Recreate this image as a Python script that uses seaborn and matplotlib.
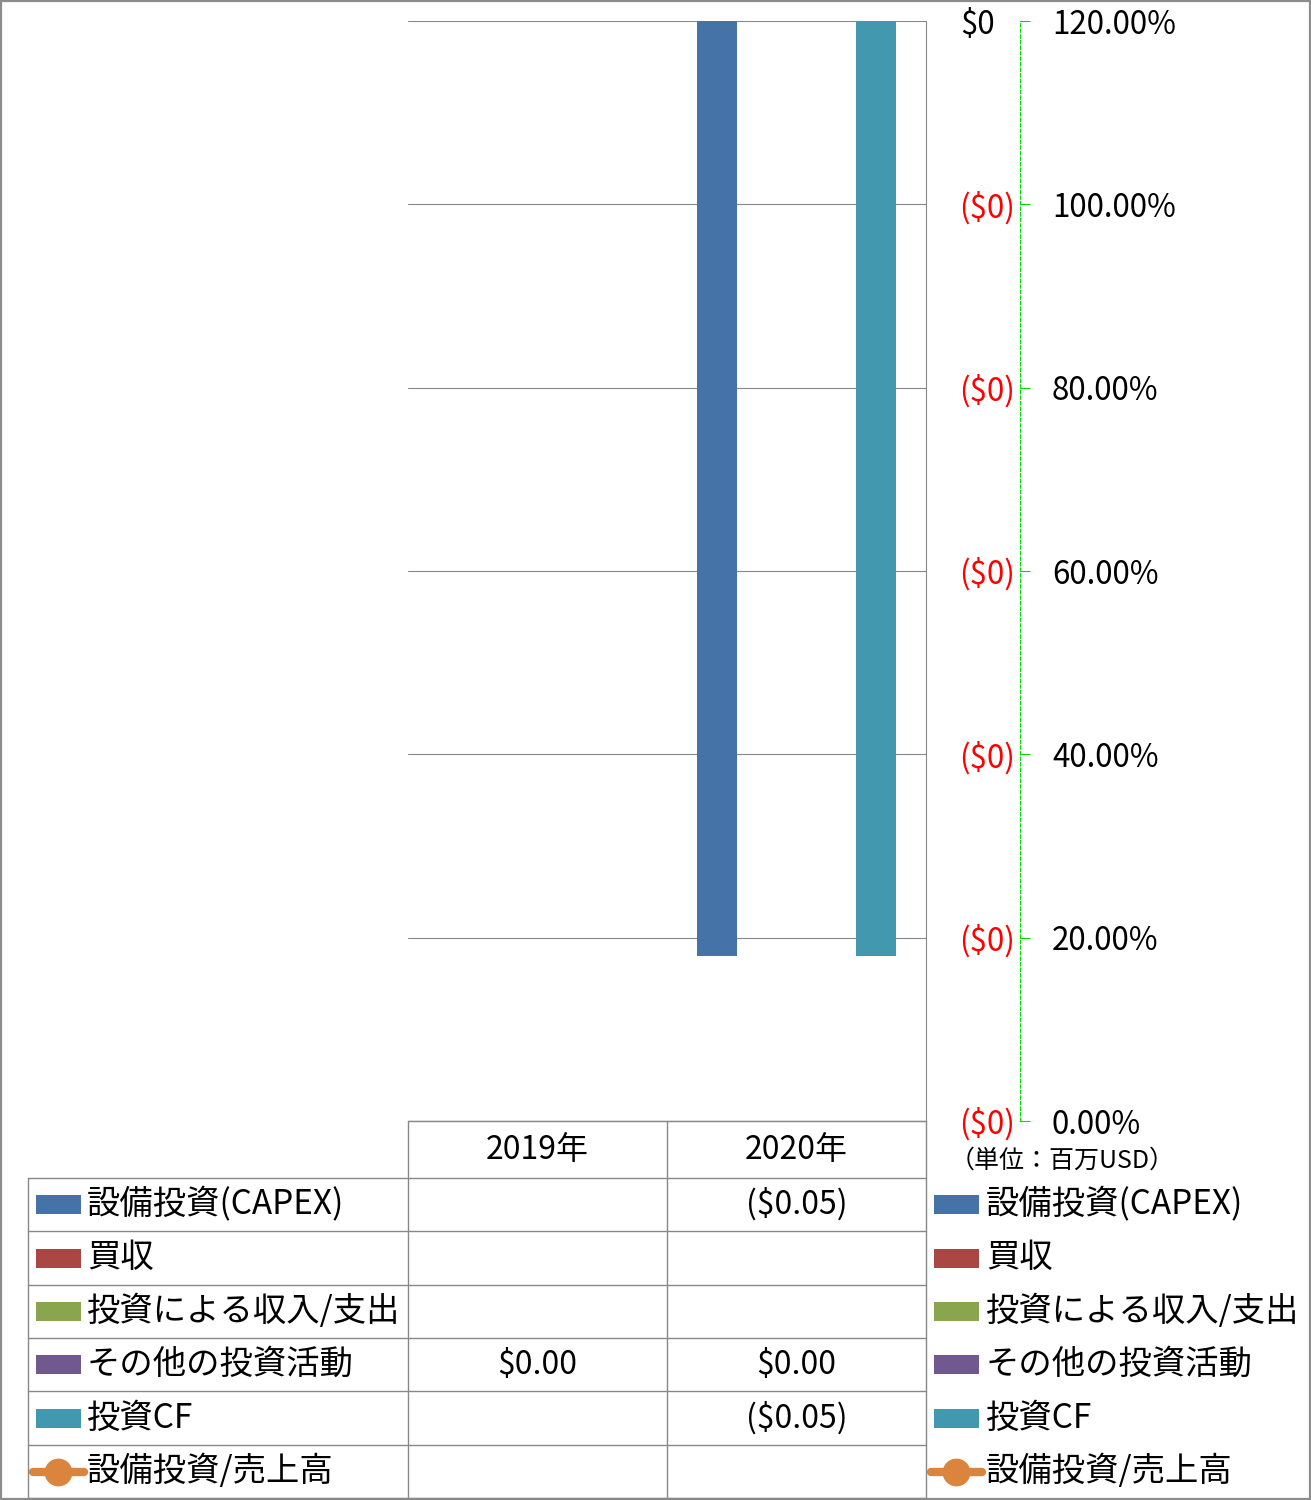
import numpy as np
import pandas as pd
import matplotlib
matplotlib.use("Agg")
import matplotlib.pyplot as plt
import seaborn as sns
from matplotlib.lines import Line2D
from matplotlib.patches import Rectangle
from matplotlib.transforms import ScaledTranslation

# ---------------- data ----------------
years = ["2019年", "2020年"]
series_names = ["設備投資(CAPEX)", "買収", "投資による収入/支出", "その他の投資活動", "投資CF"]
capex = [np.nan, -0.051]
acquisition = [np.nan, np.nan]
invest_income = [np.nan, np.nan]
other_invest = [0.0, 0.0]
invest_cf = [np.nan, -0.051]
capex_ratio = [np.nan, np.nan]
line_name = "設備投資/売上高"

table_text = {
    "設備投資(CAPEX)": ["", "($0.05)"],
    "買収": ["", ""],
    "投資による収入/支出": ["", ""],
    "その他の投資活動": ["$0.00", "$0.00"],
    "投資CF": ["", "($0.05)"],
    "設備投資/売上高": ["", ""],
}
left_ticks = [0, -0.01, -0.02, -0.03, -0.04, -0.05, -0.06]
left_labels = ["$0", "($0)", "($0)", "($0)", "($0)", "($0)", "($0)"]
right_ticks = [0, 0.2, 0.4, 0.6, 0.8, 1.0, 1.2]
right_labels = ["0.00%", "20.00%", "40.00%", "60.00%", "80.00%", "100.00%", "120.00%"]
unit_text = "（単位：百万USD）"

colors = ["#4572A7", "#AA4643", "#89A54E", "#71588F", "#4198AF"]
line_color = "#DB843D"

# ---------------- style ----------------
sns.set_style("white")
plt.rcParams["font.family"] = ["Noto Sans CJK JP", "DejaVu Sans"]
plt.rcParams["text.color"] = "black"
plt.rcParams["ytick.color"] = "black"
plt.rcParams["xtick.color"] = "black"
plt.rcParams["ytick.labelcolor"] = "black"

W, H = 1311, 1500
fig = plt.figure(figsize=(W / 100, H / 100), dpi=100)


def fx(x):
    return x / W


def fy(y):
    return 1 - y / H


ax = fig.add_axes([fx(408), fy(1121), (926 - 408) / W, (1121 - 21) / H])

rows = []
for name, vals in zip(series_names, [capex, acquisition, invest_income, other_invest, invest_cf]):
    for yr, v in zip(years, vals):
        rows.append({"year": yr, "series": name, "value": v})
df = pd.DataFrame(rows)

sns.barplot(data=df, x="year", y="value", hue="series", hue_order=series_names,
            order=years, palette=colors, width=0.772, saturation=1, ax=ax,
            legend=False, errorbar=None, linewidth=0)

ax.set_xlim(-0.5, 1.5)
ax.set_ylim(-0.06, 0)
ax.set_xticks([])
ax.set_xlabel("")
ax.set_ylabel("")
ax.grid(axis="y", color="#888888", linewidth=0.8)
ax.set_axisbelow(True)
for s in ["left", "top"]:
    ax.spines[s].set_visible(False)
for s in ["right", "bottom"]:
    ax.spines[s].set_color("#888888")
    ax.spines[s].set_linewidth(0.8)

# secondary axis
ax2 = ax.twinx()
ax2.plot(range(len(years)), capex_ratio, color=line_color, marker="o")
ax2.set_ylim(0, 1.2)
ax2.set_yticks(right_ticks)
ax2.set_yticklabels(right_labels)
for s in ["left", "top", "bottom"]:
    ax2.spines[s].set_visible(False)
ax2.spines["right"].set_position(("axes", (1020 - 408) / 518))
ax2.spines["right"].set_color("#00DD00")
ax2.spines["right"].set_linestyle((0, (3, 2)))
ax2.spines["right"].set_linewidth(0.8)
ax2.tick_params(axis="y", length=7, width=0.8, color="#00DD00", pad=16, labelsize=22.5,
                labelcolor="black")
ax2.grid(False)

# primary axis labels (on the right, after twinx)
ax.yaxis.set_ticks_position("right")
ax.yaxis.set_label_position("right")
ax.set_yticks(left_ticks)
ax.set_yticklabels(left_labels)
ax.tick_params(axis="y", which="both", left=False, labelleft=False, right=False,
               labelright=True, length=0, pad=64, labelsize=22.5)
for i, lab in enumerate(ax.get_yticklabels()):
    lab.set_horizontalalignment("right")
    if left_ticks[i] < 0:
        lab.set_color("red")
    else:
        lab.set_color("black")
        lab.set_transform(lab.get_transform() + ScaledTranslation(-0.20, 0, fig.dpi_scale_trans))

# ---------------- data table ----------------
gc = "#888888"
lw = 1.0


def hline(y, x0, x1):
    fig.add_artist(Line2D([fx(x0), fx(x1)], [fy(y), fy(y)], color=gc, lw=lw, transform=fig.transFigure))


def vline(x, y0, y1):
    fig.add_artist(Line2D([fx(x), fx(x)], [fy(y0), fy(y1)], color=gc, lw=lw, transform=fig.transFigure))


row_bounds = [1178, 1231, 1285, 1338, 1391, 1445, 1498]
col_centers = [537.5, 796.5]
hline(1121, 408, 926)
for y in row_bounds:
    hline(y, 28, 926)
vline(28, 1178, 1498)
vline(408, 1121, 1498)
vline(667, 1121, 1498)
vline(926, 1121, 1498)

for yr, cx in zip(years, col_centers):
    fig.text(fx(cx), fy(1149.5), yr, ha="center", va="center", fontsize=23)

labels_all = series_names + [line_name]
for i, name in enumerate(labels_all):
    yc = (row_bounds[i] + row_bounds[i + 1]) / 2
    for kx, tx in [(36, 87), (934, 986)]:
        if name == line_name:
            fig.add_artist(Line2D([fx(kx - 3), fx(kx + 48)], [fy(yc), fy(yc)], color=line_color,
                                  lw=6, solid_capstyle="round", transform=fig.transFigure))
            fig.add_artist(Line2D([fx(kx + 22)], [fy(yc)], color=line_color, marker="o",
                                  markersize=19, linestyle="none", transform=fig.transFigure))
        else:
            fig.add_artist(Rectangle((fx(kx), fy(yc + 9.5)), 45 / W, 19 / H,
                                     facecolor=colors[i], edgecolor="none", transform=fig.transFigure))
        fig.text(fx(tx), fy(yc), name, ha="left", va="center", fontsize=24)
    for j, cx in enumerate(col_centers):
        t = table_text[name][j]
        if t:
            fig.text(fx(cx), fy(yc), t, ha="center", va="center", fontsize=23)

fig.text(fx(950), fy(1161), unit_text, ha="left", va="center", fontsize=18)

# outer border
fig.add_artist(Rectangle((0.0008, 0.0008), 0.9984, 0.9984, fill=False, edgecolor="#8C8C8C",
                         lw=1.6, transform=fig.transFigure))

fig.savefig("out.png", dpi=100)
